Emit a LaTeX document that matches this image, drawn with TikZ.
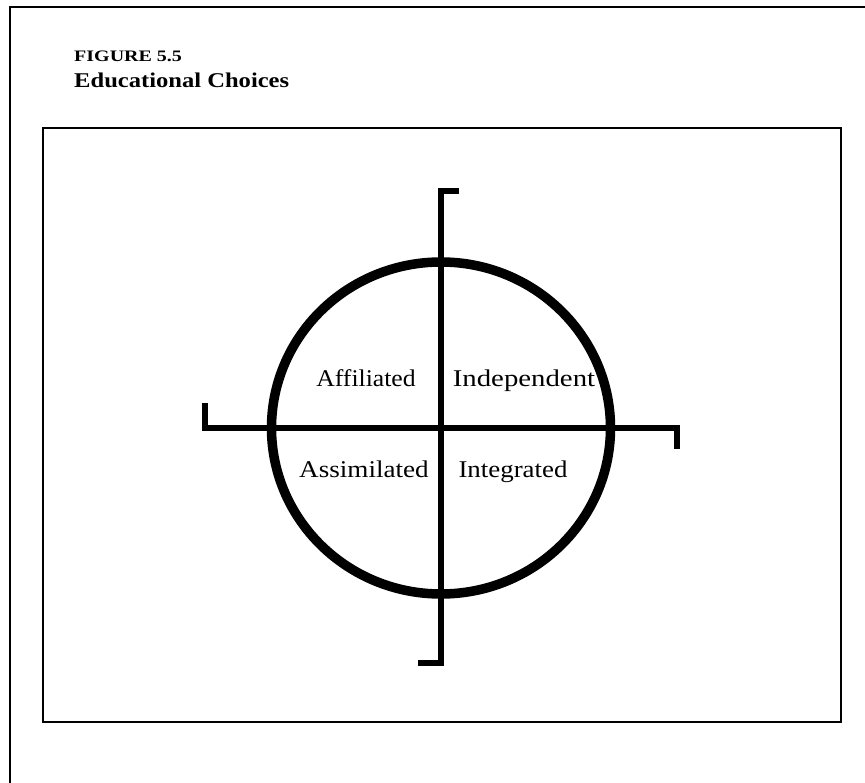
\documentclass[tikz,border=0pt]{standalone}
\usepackage{fontspec}
\setmainfont{Liberation Serif}
\begin{document}
\begin{tikzpicture}[x=1pt,y=-1pt,
  frame/.style={draw=black,line width=2pt},
  axisline/.style={draw=black,line width=6.5pt,line join=miter,line cap=butt},
  ring/.style={draw=black,line width=9.5pt},
  quad/.style={font=\fontsize{24}{26}\selectfont,inner sep=0pt,anchor=base},
  ttl/.style={inner sep=0pt,anchor=base west}]
\useasboundingbox (0,0) rectangle (865,783);
\fill[white] (0,0) rectangle (865,783);
% outer page lines (top and left only)
\draw[frame] (10,783) -- (10,7) -- (865,7);
% title
\node[ttl,font=\bfseries\fontsize{16}{17}\selectfont] (fig) at (74,62) {\scalebox{1.25}[1]{FIGURE 5.5}};
\node[ttl,font=\bfseries\fontsize{21}{22}\selectfont] (ttlb) at (74,88) {\scalebox{1.17}[1]{Educational Choices}};
% inner box
\draw[frame] (43,128) rectangle (841,722);
% circle
\coordinate (c) at (441,428);
\draw[ring] (c) ellipse [x radius=169.5, y radius=166];
% axes with serifs
\coordinate (vt) at (459,191);
\coordinate (vtop) at (441,191);
\coordinate (vbot) at (441,663);
\coordinate (vb) at (418,663);
\coordinate (hl) at (205,403);
\coordinate (hleft) at (205,428);
\coordinate (hright) at (677,428);
\coordinate (hr) at (677,449);
\draw[axisline] (vt) -- (vtop) -- (vbot) -- (vb);
\draw[axisline] (hl) -- (hleft) -- (hright) -- (hr);
% quadrant labels
\node[quad] (aff) at (366,387) {\scalebox{1.07}[1]{Affiliated}};
\node[quad] (ind) at (524,387) {\scalebox{1.2}[1]{Independent}};
\node[quad] (ass) at (364,478) {\scalebox{1.13}[1]{Assimilated}};
\node[quad] (int) at (513,478) {\scalebox{1.12}[1]{Integrated}};
\end{tikzpicture}
\end{document}
